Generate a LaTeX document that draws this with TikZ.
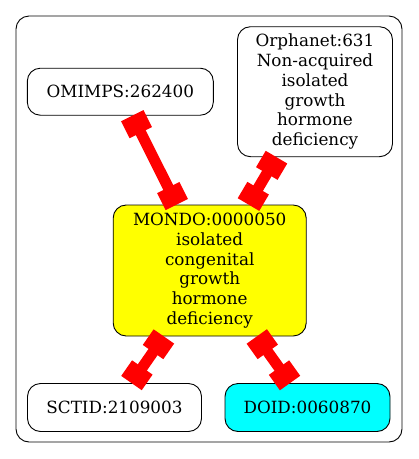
\documentclass[tikz,border=0pt]{standalone}
\usepackage{fontspec}
\setmainfont{DejaVu Serif}
\usetikzlibrary{arrows.meta}
\definecolor{ylw}{RGB}{255,255,0}
\definecolor{cyn}{RGB}{0,255,255}
\definecolor{rd}{RGB}{255,0,0}
\begin{document}
\begin{tikzpicture}[x=1pt,y=-1pt,
  nd/.style={draw, rounded corners=13pt, line width=0.9pt, align=center, inner sep=0pt,
    font=\fontsize{16.8}{19.7}\selectfont},
  edge/.style={rd, line width=11pt, {Square[length=19pt,width=25pt]}-{Square[length=19pt,width=25pt]}}]
\useasboundingbox (0,0) rectangle (419,459);
\draw[line width=0.9pt, rounded corners=13pt] (16,16) rectangle (402,442);
\node[nd, minimum width=186pt, minimum height=47pt] (omim) at (120.3,91.7) {OMIMPS:262400};
\node[nd, minimum width=155pt, minimum height=130pt] (orph) at (315,91.7) {Orphanet:631\\Non-acquired\\isolated\\growth\\hormone\\deficiency};
\node[nd, fill=ylw, minimum width=193pt, minimum height=131pt] (mondo) at (209.7,270.5) {MONDO:0000050\\isolated\\congenital\\growth\\hormone\\deficiency};
\node[nd, minimum width=174pt, minimum height=48pt] (sct) at (114.5,407.5) {SCTID:2109003};
\node[nd, fill=cyn, minimum width=165pt, minimum height=48pt] (doid) at (307.5,407.5) {DOID:0060870};
\draw[edge] (omim) -- (mondo);
\draw[edge] (orph) -- (mondo);
\draw[edge] (mondo) -- (sct);
\draw[edge] (mondo) -- (doid);
\end{tikzpicture}
\end{document}
